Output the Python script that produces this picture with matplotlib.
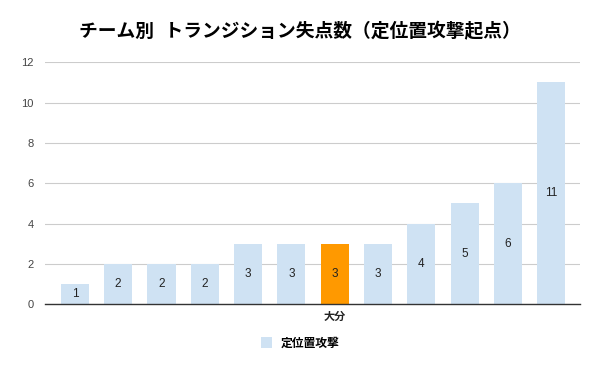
import matplotlib
matplotlib.use("Agg")
import matplotlib.pyplot as plt
from matplotlib.patches import Patch

plt.rcParams['font.family'] = ['Liberation Sans', 'Noto Sans CJK JP', 'DejaVu Sans']

teams = ["", "", "", "", "", "", "大分", "", "", "", "", ""]
values = [1, 2, 2, 2, 3, 3, 3, 3, 4, 5, 6, 11]
highlight = "大分"
series_name = "定位置攻撃"
title = "チーム別  トランジション失点数（定位置攻撃起点）"
yticks = [0, 2, 4, 6, 8, 10, 12]

base_color = "#cfe2f3"
hi_color = "#ff9900"

fig = plt.figure(figsize=(6, 3.71), dpi=100)
ax = fig.add_axes([0.075, 0.18, 0.892, 0.652])

x = list(range(len(values)))
colors = [hi_color if t == highlight else base_color for t in teams]
bars = ax.bar(x, values, width=0.65, color=colors, zorder=2)
for xi, v in zip(x, values):
    ax.text(xi, v / 2, str(v), ha='center', va='center', fontsize=8.5, color='#222222', zorder=3)

ax.set_xlim(-0.69, 11.67)
ax.set_ylim(0, 12)
ax.set_yticks(yticks)
ax.set_yticklabels([str(t) for t in yticks], fontsize=8, color='#444444')
ax.yaxis.grid(True, color='#cccccc', linewidth=0.8, zorder=0)
ax.set_axisbelow(True)
ax.tick_params(axis='y', length=0, pad=8)
ax.set_xticks(x)
ax.set_xticklabels(teams, fontsize=8, fontweight='bold', color='#222222')
ax.tick_params(axis='x', length=0, pad=5)
for s in ['top', 'right', 'left']:
    ax.spines[s].set_visible(False)
ax.spines['bottom'].set_color('#333333')
ax.spines['bottom'].set_linewidth(1.0)

fig.text(0.5, 0.915, title, ha='center', va='center', fontsize=13.5, fontweight='bold', color='#000000')

leg = fig.legend(handles=[Patch(facecolor=base_color, edgecolor='none', label=series_name)],
                 loc='center', bbox_to_anchor=(0.5, 0.075), frameon=False,
                 prop={'size': 8.5, 'weight': 'bold', 'family': ['Noto Sans CJK JP']},
                 handlelength=1.0, handleheight=1.0, handletextpad=0.7)

fig.savefig("out.png", dpi=100)
